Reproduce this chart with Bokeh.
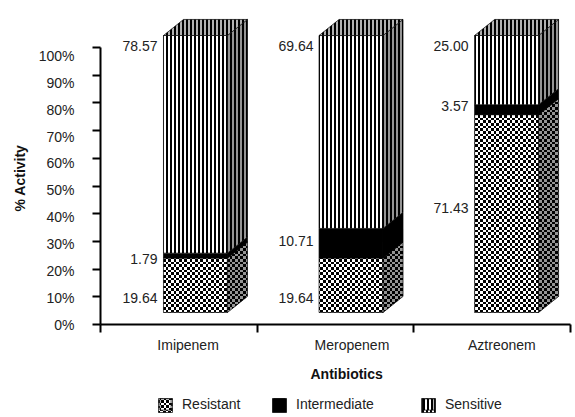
import base64, struct, zlib
from bokeh.plotting import figure
from bokeh.embed import file_html
from bokeh.resources import INLINE
from bokeh.layouts import column
from bokeh.models import Range1d, FixedTicker, Legend, LegendItem, Label, ImageURLTexture, LinearAxis, Title

categories = ["Imipenem", "Meropenem", "Aztreonem"]
resistant = [19.64, 19.64, 71.43]
intermediate = [1.79, 10.71, 3.57]
sensitive = [78.57, 69.64, 25.00]
y_ticks = list(range(0, 101, 10))

FONT = "Liberation Sans"
TXT = "#222222"
PITCH, BAR_LEFT, BAR_W = 0.993, 0.402, 0.408
FLOOR = 4.33
DX, DY = 0.128, 5.8
PX_X, PX_Y = 156.67, 2.77


def png_uri(n, pixel):
    rows = b"".join(b"\x00" + bytes(pixel(x, y) for x in range(n)) for y in range(n))
    def chunk(t, d):
        return struct.pack(">I", len(d)) + t + d + struct.pack(">I", zlib.crc32(t + d) & 0xffffffff)
    png = b"\x89PNG\r\n\x1a\n" + chunk(b"IHDR", struct.pack(">IIBBBBB", n, n, 8, 0, 0, 0, 0)) + \
        chunk(b"IDAT", zlib.compress(rows)) + chunk(b"IEND", b"")
    return "data:image/png;base64," + base64.b64encode(png).decode()


checker = ImageURLTexture(url=png_uri(16, lambda x, y: 255 if (int(x * 3 / 8) + int(y * 3 / 8)) % 2 else 0))

p = figure(width=575, height=392, output_backend="svg", toolbar_location=None,
           x_range=Range1d(0, 3), y_range=Range1d(0, 324 / PX_Y),
           min_border_left=100, min_border_right=5, min_border_top=0, min_border_bottom=68)
p.outline_line_color = None
p.grid.visible = False

# inner axes: the black rules and ticks
yax = p.yaxis[0]
yax.axis_line_color = "black"
yax.axis_line_width = 2
yax.ticker = FixedTicker(ticks=y_ticks)
yax.major_label_overrides = {t: "" for t in y_ticks}
yax.major_label_standoff = 0
yax.major_tick_line_color = "black"
yax.major_tick_line_width = 2
yax.major_tick_out = 8
yax.major_tick_in = 0
yax.minor_tick_line_color = None
yax.bounds = (0, 100)

# outer y axis: tick texts, which drift a little below their ticks in the reference
p.extra_y_ranges = {"lab": Range1d(0, 324 / 2.685)}
yl = LinearAxis(y_range_name="lab", ticker=FixedTicker(ticks=y_ticks),
                major_label_overrides={t: f"{t}%" for t in y_ticks},
                axis_line_color=None, major_tick_line_color=None, minor_tick_line_color=None,
                major_tick_in=0, major_tick_out=0, major_label_standoff=18,
                major_label_text_font=FONT, major_label_text_font_size="14px", major_label_text_color=TXT)
p.add_layout(yl, "left")

# axis titles off-centre as in the reference
p.add_layout(Title(text="% Activity", align="left", offset=113, standoff=16, text_font=FONT,
                   text_font_size="14px", text_font_style="bold", text_color="#111111"), "left")
p.add_layout(Title(text="Antibiotics", align="left", offset=210, standoff=16, text_font=FONT,
                   text_font_size="14px", text_font_style="bold", text_color="#111111"), "below")

label_pos = [0.559, 1.605, 2.562]
xax = p.xaxis[0]
xax.axis_line_color = "black"
xax.axis_line_width = 2
xax.ticker = FixedTicker(ticks=label_pos, minor_ticks=[0, 1, 2, 3])
xax.major_label_overrides = dict(zip(label_pos, categories))
xax.major_label_text_font = FONT
xax.major_label_text_font_size = "14px"
xax.major_label_text_color = TXT
xax.major_tick_line_color = None
xax.major_tick_in = 0
xax.major_tick_out = 8
xax.minor_tick_line_color = "black"
xax.minor_tick_line_width = 2
xax.minor_tick_in = 0
xax.minor_tick_out = 8
xax.major_label_standoff = 4

styles = {
    "Resistant": dict(fill_color="white", hatch_pattern="checker", hatch_extra={"checker": checker}),
    "Intermediate": dict(fill_color="black"),
    "Sensitive": dict(fill_color="white", hatch_pattern="vertical_line", hatch_color="black",
                      hatch_scale=4, hatch_weight=2),
}
for i in range(3):
    x0 = i * PITCH + BAR_LEFT
    x1 = x0 + BAR_W
    base = FLOOR
    for name, vals in (("Resistant", resistant), ("Intermediate", intermediate), ("Sensitive", sensitive)):
        top = base + vals[i]
        st = styles[name]
        p.patch([x0, x1, x1, x0], [base, base, top, top], line_color="black", line_width=0.7, **st)
        p.patch([x1, x1 + DX, x1 + DX, x1], [base, base + DY, top + DY, top],
                line_color="black", line_width=0.7, **st)
        p.patch([x1, x1 + DX, x1 + DX, x1], [base, base + DY, top + DY, top],
                fill_color="black", fill_alpha=0.42, line_color=None)
        base = top
    st = styles["Sensitive"]
    p.patch([x0, x0 + DX, x1 + DX, x1], [base, base + DY, base + DY, base],
            line_color="black", line_width=0.7, **st)
    p.patch([x0, x0 + DX, x1 + DX, x1], [base, base + DY, base + DY, base],
            fill_color="black", fill_alpha=0.3, line_color=None)

# value labels, hand-placed beside each bar as in the reference
label_py = [[297, 258, 45], [297, 240, 45], [207, 105, 45]]
label_right = [157, 313, 468]
for i in range(3):
    for s, vals in enumerate((resistant, intermediate, sensitive)):
        p.add_layout(Label(x=(label_right[i] - 100) / PX_X, y=(324 - label_py[i][s]) / PX_Y,
                           text=f"{vals[i]:.2f}", text_align="right", text_baseline="middle",
                           text_font=FONT, text_font_size="14px", text_color=TXT))

# legend strip under the chart (its frame lines up with the chart's frame)
p2 = figure(width=575, height=25, output_backend="svg", toolbar_location=None,
            x_range=Range1d(100, 570), y_range=Range1d(0, 25), x_axis_location=None, y_axis_location=None,
            min_border_left=100, min_border_right=5, min_border_top=0, min_border_bottom=0)
p2.outline_line_color = None
p2.grid.visible = False
for name, lx in (("Resistant", 158), ("Intermediate", 272), ("Sensitive", 421)):
    sw = p2.patch([lx, lx + 14, lx + 14, lx], [5, 5, 19, 19], line_color="black", line_width=0.7, **styles[name])
    p2.add_layout(Legend(items=[LegendItem(label=name, renderers=[sw])],
                         location=(lx - 100, 5), border_line_color=None, background_fill_alpha=0,
                         glyph_width=14, glyph_height=14, label_text_font=FONT, label_text_font_size="14px",
                         label_text_color=TXT, padding=0, margin=0, label_standoff=10))

page = column(p, p2, spacing=0)
open("out.html", "w").write(file_html(page, INLINE))
